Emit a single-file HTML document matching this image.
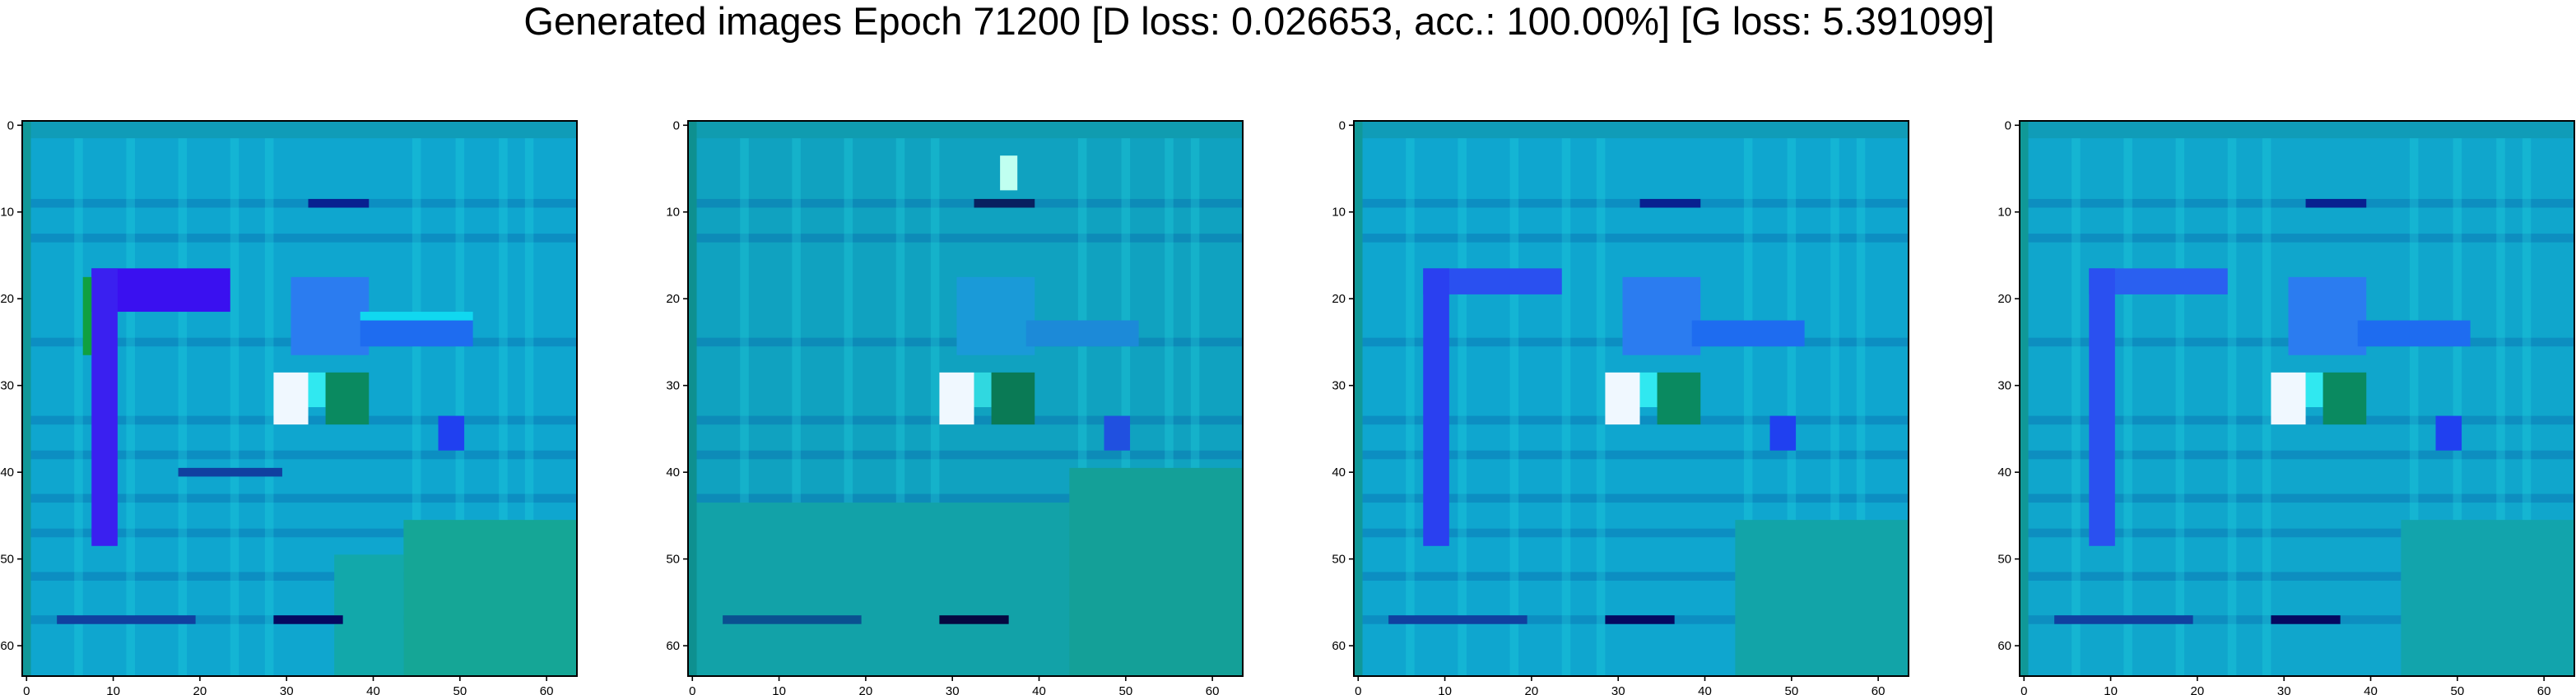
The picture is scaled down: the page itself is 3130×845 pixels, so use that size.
<!DOCTYPE html>
<html><head><meta charset="utf-8"><style>
html,body{margin:0;padding:0;background:#fff;}
svg{display:block;font-family:"Liberation Sans","DejaVu Sans",sans-serif;}
</style></head><body>
<svg id="fig" width="3130" height="845" viewBox="0 0 3130 845" xmlns="http://www.w3.org/2000/svg">
<text x="1530" y="42" font-size="47" text-anchor="middle" fill="#000">Generated images Epoch 71200 [D loss: 0.026653, acc.: 100.00%] [G loss: 5.391099]</text>
</svg>
<script>
// image-pixel domain and ticks
const gridSize = 64;
const tickValues = [0,10,20,30,40,50,60];
const panelNames = ['sample-1','sample-2','sample-3','sample-4'];
const baseColors = ['#0fa6cf','#10a2c0','#0fa6cf','#10a6cc'];
// features: [x0, y0, x1, y1, color] in image pixel units
const features1 = [
 [0,0,64,2,'#109cb8'],[44,46,64,64,'#15a696'],[36,50,44,64,'#12a8aa'],
 [8,17,24,22,'#3a10f0'],[8,17,11,49,'#3a20f0'],[7,18,8,27,'#10a040'],
 [31,18,40,27,'#2b7cf0'],[39,23,52,26,'#1e6cf0'],[39,22,52,23,'#10d8f0'],
 [29,29,33,35,'#f0f8ff'],[33,29,35,33,'#30e8f0'],[35,29,40,35,'#0a8a60'],
 [29,57,37,58,'#050860'],[4,57,20,58,'#1040a0'],[18,40,30,41,'#1040a0'],
 [33,9,40,10,'#082090'],[48,34,51,38,'#2040f0'],[0,0,1,64,'#109898']
];
const features2 = [
 [0,0,64,2,'#109cb0'],[0,44,64,64,'#12a2a8'],[44,40,64,64,'#14a098'],
 [31,18,40,27,'#1a9ad8'],[39,23,52,26,'#1c8ad8'],
 [29,29,33,35,'#f0f8ff'],[33,29,35,33,'#30d8e0'],[35,29,40,35,'#0a7a55'],
 [29,57,37,58,'#050840'],[4,57,20,58,'#0a5090'],[33,9,40,10,'#082060'],
 [48,34,51,38,'#2050e0'],[36,4,38,8,'#c0fff0'],[0,0,1,64,'#0e9090']
];
const features3 = [
 [0,0,64,2,'#109cb8'],[44,46,64,64,'#12a4a8'],
 [8,17,24,20,'#2a50f0'],[8,17,11,49,'#2a40f0'],
 [31,18,40,27,'#2b7cf0'],[39,23,52,26,'#1e6cf0'],
 [29,29,33,35,'#f0f8ff'],[33,29,35,33,'#30e8f0'],[35,29,40,35,'#0a8a60'],
 [29,57,37,58,'#050860'],[4,57,20,58,'#1040a0'],[33,9,40,10,'#082090'],
 [48,34,51,38,'#2040f0'],[0,0,1,64,'#109898']
];
const features4 = [
 [0,0,64,2,'#109cb8'],[44,46,64,64,'#12a4ac'],
 [8,17,24,20,'#2a60f0'],[8,17,11,49,'#2a50f0'],
 [31,18,40,27,'#2b7cf0'],[39,23,52,26,'#1e6cf0'],
 [29,29,33,35,'#f0f8ff'],[33,29,35,33,'#30e8f0'],[35,29,40,35,'#0a8a60'],
 [29,57,37,58,'#050860'],[4,57,20,58,'#1040a0'],[33,9,40,10,'#082090'],
 [48,34,51,38,'#2040f0'],[0,0,1,64,'#109898']
];
const featureSets = [features1, features2, features3, features4];
// grid stripe rows/cols (darker lines seen in texture)
const darkRows = [9,13,25,34,38,43,47,52,57];
const lightCols = [6,12,18,24,28,45,50,55,58];

const NS='http://www.w3.org/2000/svg';
const svg=document.getElementById('fig');
const axLefts=[27,836,1645,2454], axTop=147, axW=674, axH=675;
function mk(t,a){const e=document.createElementNS(NS,t);for(const k in a)e.setAttribute(k,a[k]);return e;}
panelNames.forEach((nm,i)=>{
  const L=axLefts[i];
  const sx=v=>L+v*axW/gridSize, sy=v=>axTop+v*axH/gridSize;
  const g=mk('g',{});
  
  
  svg.appendChild(g);
  const bg=mk('rect',{x:L,y:axTop,width:axW,height:axH,fill:baseColors[i]});
  
  
  g.appendChild(bg);
  darkRows.forEach(r=>{const e=mk('rect',{x:sx(0),y:sy(r),width:axW,height:axH/gridSize,fill:'#0a60a8',opacity:0.35});
    
    
    g.appendChild(e);});
  lightCols.forEach(c=>{const e=mk('rect',{x:sx(c),y:sy(0),width:axW/gridSize,height:axH,fill:'#20d8e0',opacity:0.3});
    
    
    g.appendChild(e);});
  featureSets[i].forEach(f=>{const e=mk('rect',{x:sx(f[0]),y:sy(f[1]),width:sx(f[2])-sx(f[0]),height:sy(f[3])-sy(f[1]),fill:f[4]});
    
    
    g.appendChild(e);});
  const fr=mk('rect',{x:L,y:axTop,width:axW,height:axH,fill:'none',stroke:'#000','stroke-width':2});
  
  
  g.appendChild(fr);
  tickValues.forEach(v=>{
    const x=sx(v+0.5), y=sy(v+0.5);
    const tx=mk('line',{x1:x,y1:axTop+axH,x2:x,y2:axTop+axH+6,stroke:'#000','stroke-width':1.6});
    
    
    g.appendChild(tx);
    const lx=mk('text',{x:x,y:axTop+axH+23,'font-size':15,'text-anchor':'middle'});lx.textContent=v;
    
    
    g.appendChild(lx);
    const ty=mk('line',{x1:L-6,y1:y,x2:L,y2:y,stroke:'#000','stroke-width':1.6});
    
    
    g.appendChild(ty);
    const ly=mk('text',{x:L-10,y:y+5,'font-size':15,'text-anchor':'end'});ly.textContent=v;
    
    
    g.appendChild(ly);
  });
});
</script>
</body></html>
